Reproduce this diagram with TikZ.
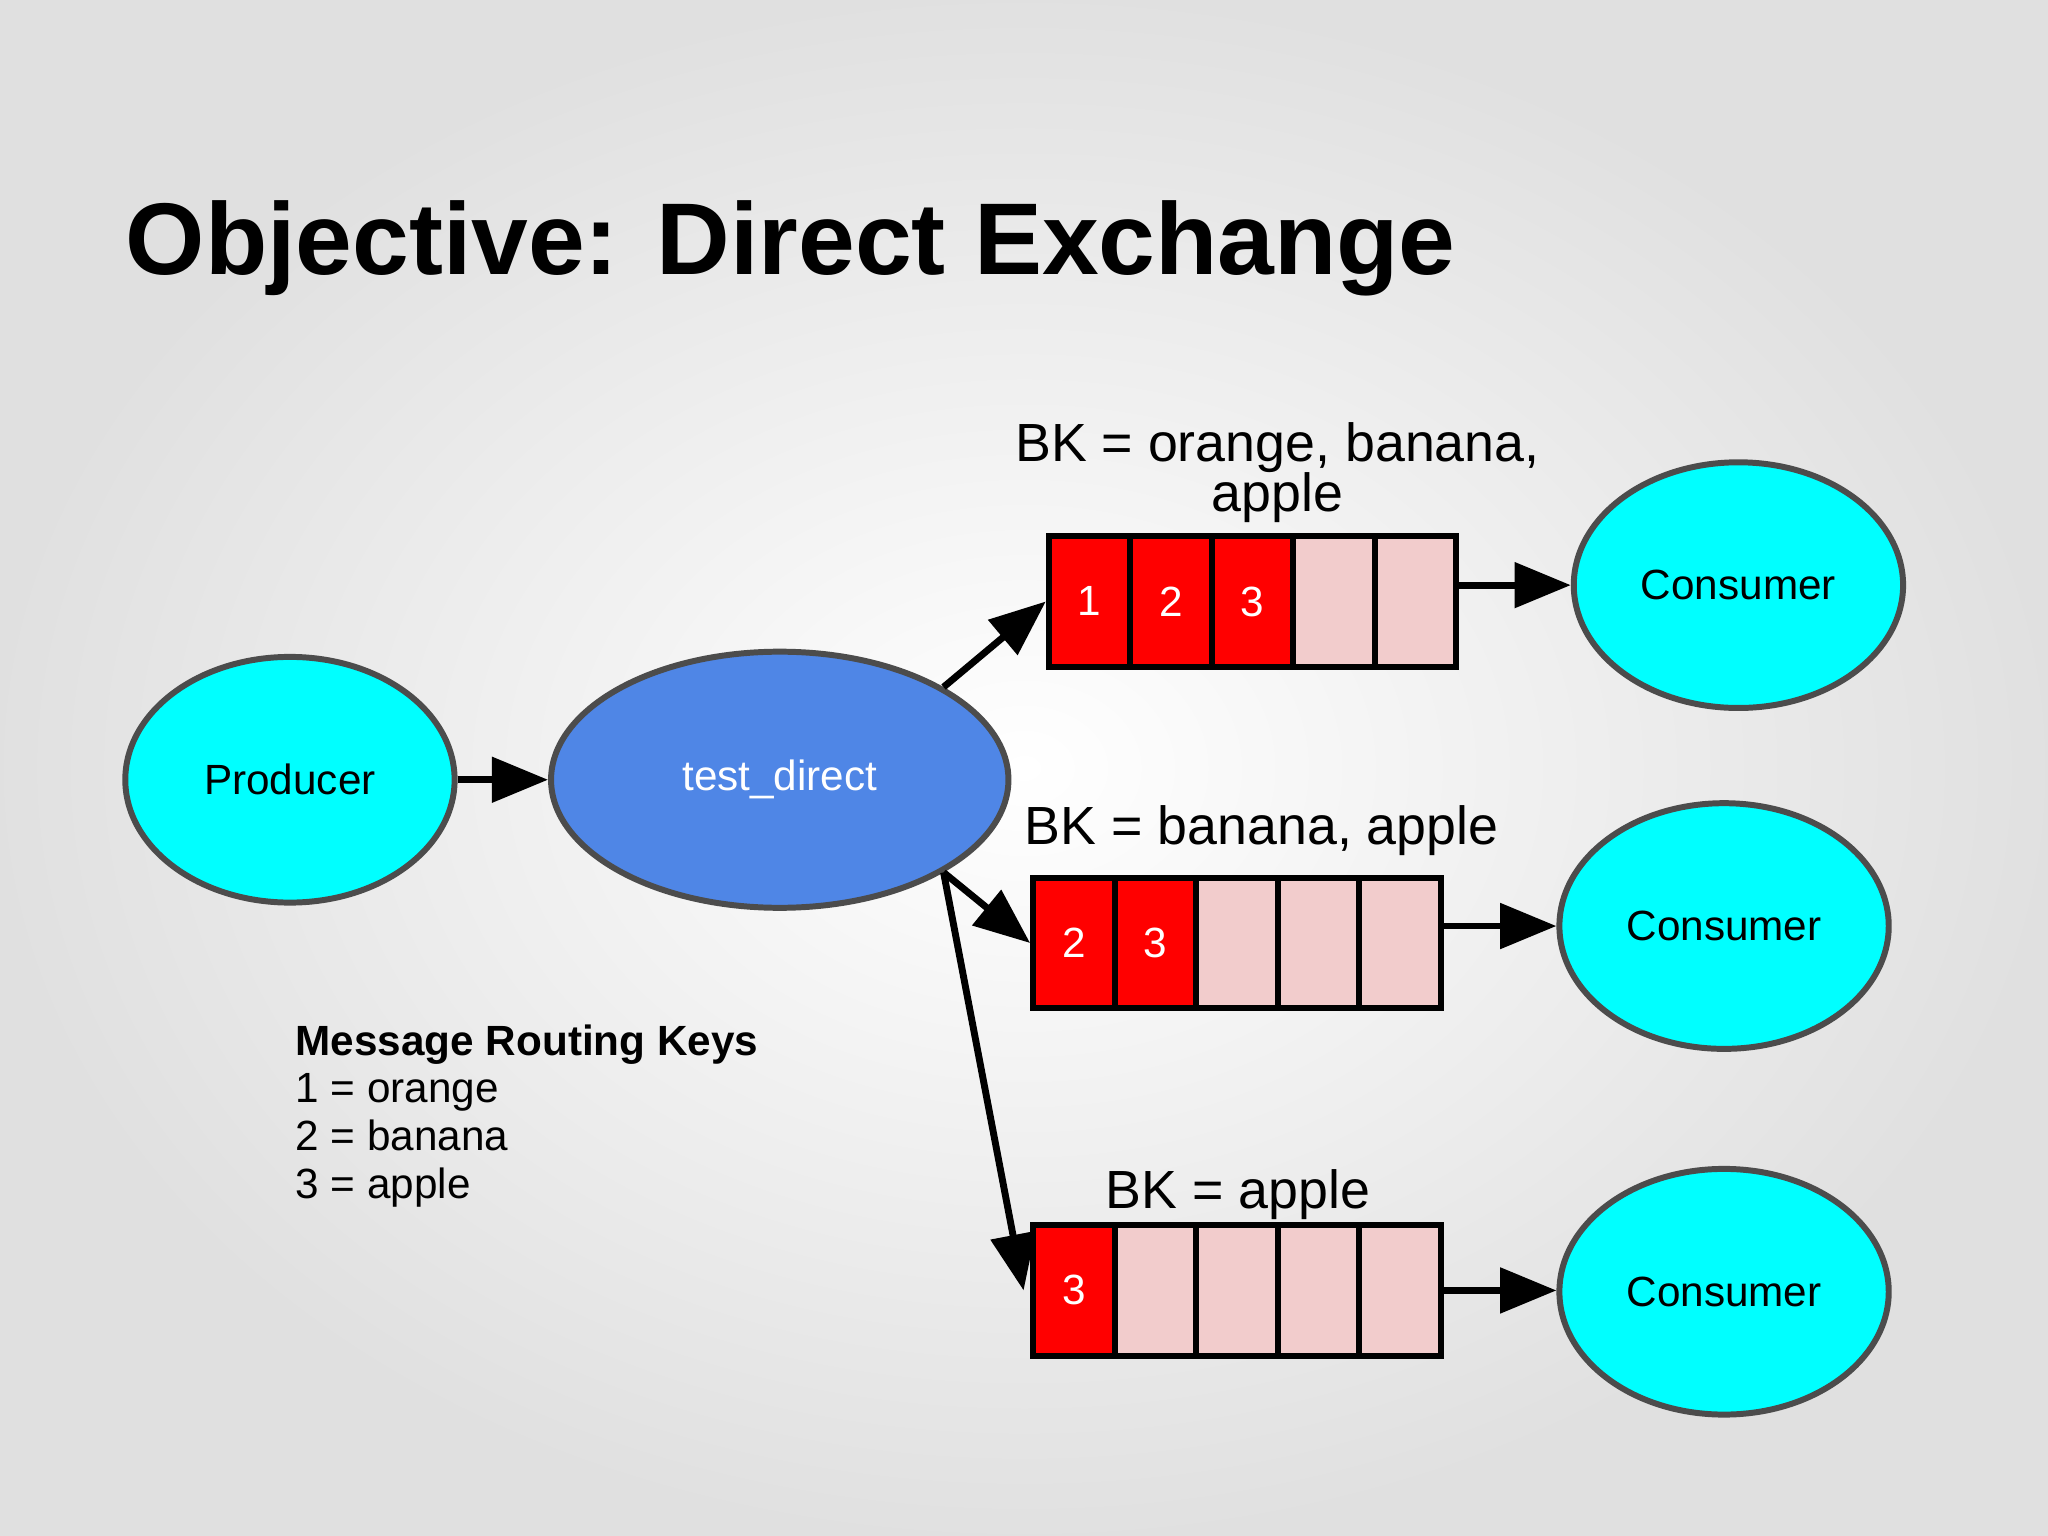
\documentclass[tikz,border=0pt]{standalone}
\usepackage{fontspec}
\setmainfont{Liberation Sans}
\usetikzlibrary{arrows.meta,shapes.geometric}
\definecolor{cy}{HTML}{00FFFF}
\definecolor{bl}{HTML}{4F86E6}
\definecolor{pk}{HTML}{F2CCCC}
\definecolor{rd}{HTML}{FF0000}
\begin{document}
\begin{tikzpicture}[x=0.01cm,y=-0.01cm,
  ell/.style={ellipse,draw=black!70,line width=1.3pt,fill=cy,font=\fontsize{9.2}{11}\selectfont},
  cell/.style={draw=black,line width=1.3pt,minimum width=0.624cm,minimum height=1.0cm,inner sep=0pt,fill=pk,text=white,font=\fontsize{9.2}{11}\selectfont},
  red/.style={fill=rd},
  arr/.style={line width=1.5pt,-{Triangle[length=4.3mm,width=3.4mm]}},
  bk/.style={font=\fontsize{11.7}{14}\selectfont,align=center}]
\shade[inner color=white,outer color=black!12] (0,0) rectangle (1568,1176);
\useasboundingbox (0,0) rectangle (1568,1176);
\node[anchor=base west,font=\bfseries\fontsize{22.2}{26}\selectfont] (title) at (84,210) {Objective: Direct Exchange};
\node[ell,minimum width=2.52cm,minimum height=1.88cm] (prod) at (222,597) {Producer};
\node[ell,fill=bl,text=white,minimum width=3.5cm,minimum height=1.96cm] (td) at (597,597) {test\_direct};
\node[ell,minimum width=2.52cm,minimum height=1.88cm] (c1) at (1331,448) {Consumer};
\node[ell,minimum width=2.52cm,minimum height=1.88cm] (c2) at (1320,709) {Consumer};
\node[ell,minimum width=2.52cm,minimum height=1.88cm] (c3) at (1320,989) {Consumer};
% queue 1
\node[cell,red] (a1) at (834.2,460.5) {1};
\node[cell,red] (a2) at (896.6,460.5) {2};
\node[cell,red] (a3) at (959,460.5) {3};
\node[cell] (a4) at (1021.4,460.5) {};
\node[cell] (a5) at (1083.8,460.5) {};
% queue 2
\node[cell,red] (b1) at (822.2,722) {2};
\node[cell,red] (b2) at (884.6,722) {3};
\node[cell] (b3) at (947,722) {};
\node[cell] (b4) at (1009.4,722) {};
\node[cell] (b5) at (1071.8,722) {};
% queue 3
\node[cell,red] (d1) at (822.2,988) {3};
\node[cell] (d2) at (884.6,988) {};
\node[cell] (d3) at (947,988) {};
\node[cell] (d4) at (1009.4,988) {};
\node[cell] (d5) at (1071.8,988) {};
\node[bk] (l1) at (978,362) {BK = orange, banana,\\[-3pt]apple};
\node[bk] (l2) at (966,636) {BK = banana, apple};
\node[bk] (l3) at (948,915) {BK = apple};
\node[anchor=north west,align=left,font=\fontsize{9.2}{10.4}\selectfont] (leg) at (214,772)
 {\textbf{Message Routing Keys}\\1 = orange\\2 = banana\\3 = apple};
\draw[arr] (prod.east) -- (td.west);
\draw[arr] (td.north east) -- (a1.west);
\draw[arr] (td.south east) -- (b1.west);
\draw[arr] (td.south east) -- ([xshift=-0.05cm]d1.west);
\draw[arr] (a5.east |- c1.west) -- (c1.west);
\draw[arr] (b5.east |- c2.west) -- (c2.west);
\draw[arr] (d5.east) -- (d5.east -| c3.west);
\end{tikzpicture}
\end{document}
